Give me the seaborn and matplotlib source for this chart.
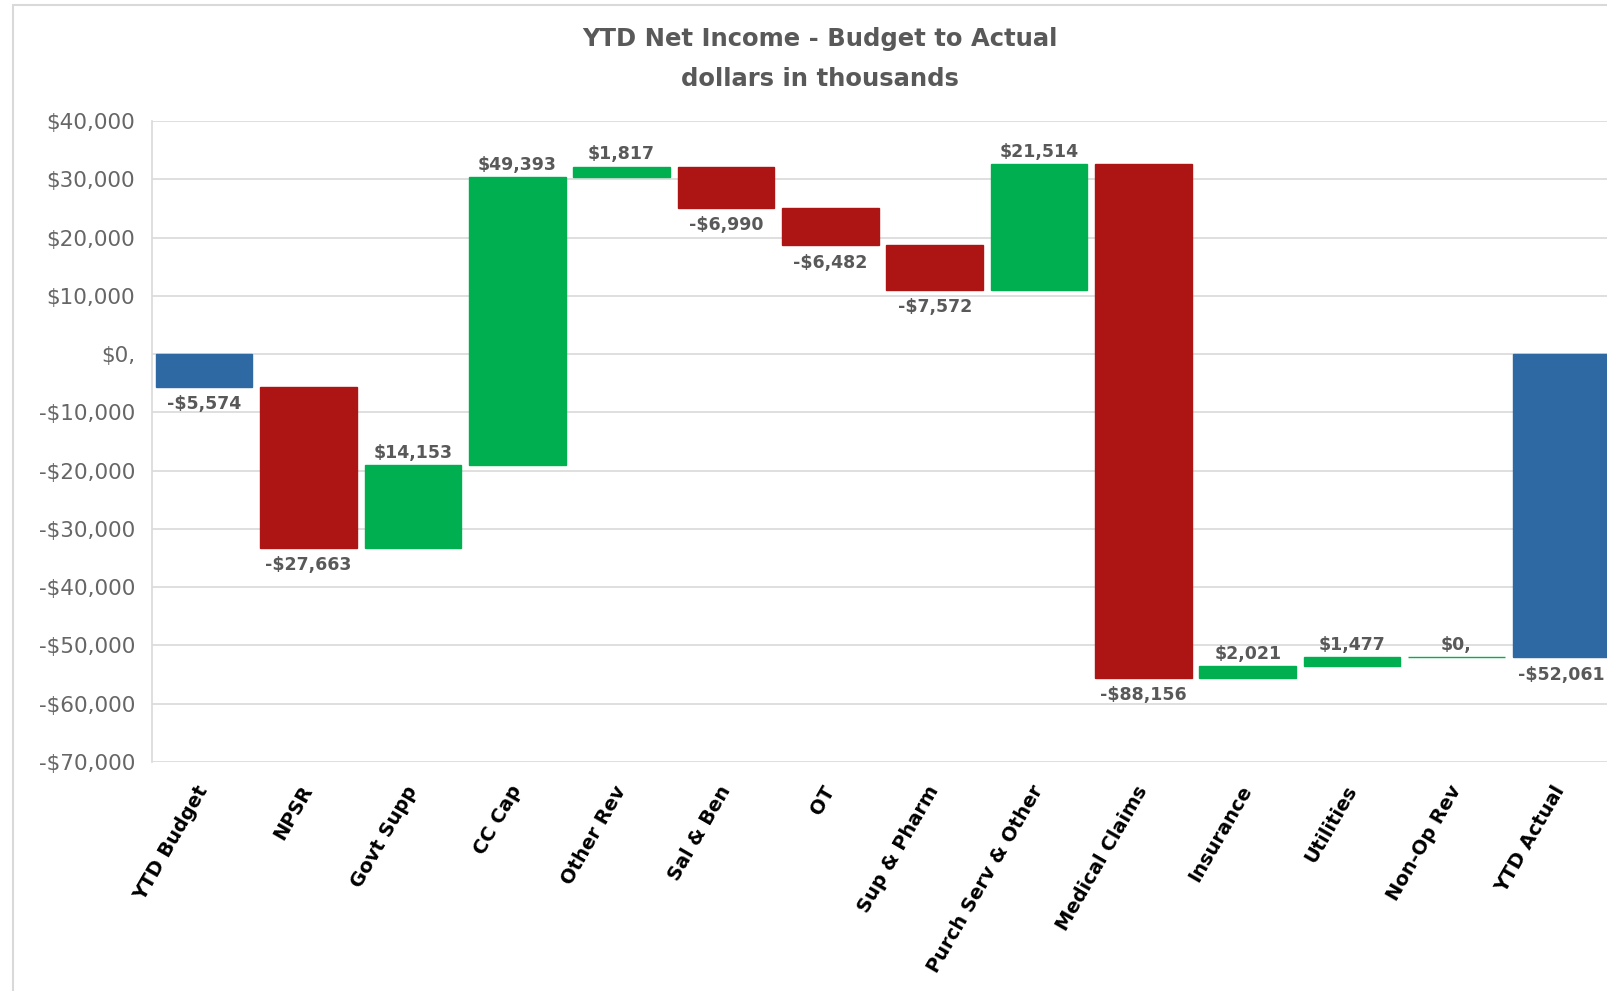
import pandas as pd
import matplotlib.pyplot as plt
import seaborn as sns
from matplotlib.patches import Rectangle

# Waterfall data (dollars in thousands)
categories = ['YTD Budget', 'NPSR', 'Govt Supp', 'CC Cap', 'Other Rev', 'Sal & Ben', 'OT',
              'Sup & Pharm', 'Purch Serv & Other', 'Medical Claims', 'Insurance', 'Utilities',
              'Non-Op Rev', 'YTD Actual']
values = [-5574, -27663, 14153, 49393, 1817, -6990, -6482, -7572, 21514, -88156, 2021, 1477, 0, -52061]
kinds = ['total'] + ['delta'] * 12 + ['total']
ytick_values = [40000, 30000, 20000, 10000, 0, -10000, -20000, -30000, -40000, -50000, -60000, -70000]
ytick_labels = ['$40,000', '$30,000', '$20,000', '$10,000', '$0,', '-$10,000', '-$20,000',
                '-$30,000', '-$40,000', '-$50,000', '-$60,000', '-$70,000']

colors = {'total': '#2E69A3', 'up': '#00B050', 'down': '#AD1515'}


def money(v):
    if v == 0:
        return '$0,'
    return ('-' if v < 0 else '') + '${:,}'.format(abs(v))


# running totals -> floating bar bottoms
bottoms, bar_colors = [], []
running = 0
for v, k in zip(values, kinds):
    if k == 'total':
        bottoms.append(0)
        running = v
        bar_colors.append(colors['total'])
    else:
        bottoms.append(running)
        running += v
        bar_colors.append(colors['up'] if v >= 0 else colors['down'])

df = pd.DataFrame({'category': categories, 'value': values, 'bottom': bottoms})

sns.set_style('white')
plt.rcParams['font.family'] = ['DejaVu Sans']

fig = plt.figure(figsize=(16.08, 9.91), dpi=100)
ax = fig.add_axes([152 / 1608, 229 / 991, 1461 / 1608, 641 / 991])

sns.barplot(data=df, x='category', y='value', order=categories, bottom=df['bottom'].values,
            color=colors['total'], saturation=1, errorbar=None, width=0.925, ax=ax)
for patch, c in zip(ax.patches, bar_colors):
    patch.set_facecolor(c)
    patch.set_edgecolor(c)
    patch.set_linewidth(1)

# data labels
for i, (v, b) in enumerate(zip(values, bottoms)):
    if v >= 0:
        ax.annotate(money(v), (i, b + v), xytext=(0, 2.5), textcoords='offset points',
                    ha='center', va='bottom', fontsize=12.5, fontweight='bold', color='#595959')
    else:
        ax.annotate(money(v), (i, b + v), xytext=(0, -6), textcoords='offset points',
                    ha='center', va='top', fontsize=12.5, fontweight='bold', color='#595959')

ax.set_xlim(-0.5, 13.5)
ax.set_ylim(-70000, 40000)
ax.set_yticks(ytick_values)
ax.set_yticklabels(ytick_labels, fontsize=15.5, color='#666666')
ax.grid(axis='y', color='#D9D9D9', linewidth=1.2)
ax.set_axisbelow(True)
ax.tick_params(axis='y', length=0, pad=12)
ax.tick_params(axis='x', length=0, pad=18)
ax.set_xticks(range(len(categories)))
ax.set_xticklabels(categories, rotation=60, ha='right', va='center', rotation_mode='anchor',
                   fontsize=14, fontweight='bold', color='black')
ax.set_xlabel('')
ax.set_ylabel('')
for s in ['top', 'right', 'bottom']:
    ax.spines[s].set_visible(False)
ax.spines['left'].set_color('#D9D9D9')
ax.spines['left'].set_linewidth(1.2)

fig.text(820 / 1608, 1 - 39 / 991, 'YTD Net Income - Budget to Actual', ha='center', va='center',
         fontsize=17.5, fontweight='bold', color='#595959')
fig.text(820 / 1608, 1 - 79 / 991, 'dollars in thousands', ha='center', va='center',
         fontsize=17.5, fontweight='bold', color='#595959')

# chart area border
fig.add_artist(Rectangle((13 / 1608, -0.05), 1.2, 1.05 - 5 / 991, transform=fig.transFigure,
                         fill=False, edgecolor='#D9D9D9', linewidth=1.5))

fig.savefig('out.png', dpi=100)
